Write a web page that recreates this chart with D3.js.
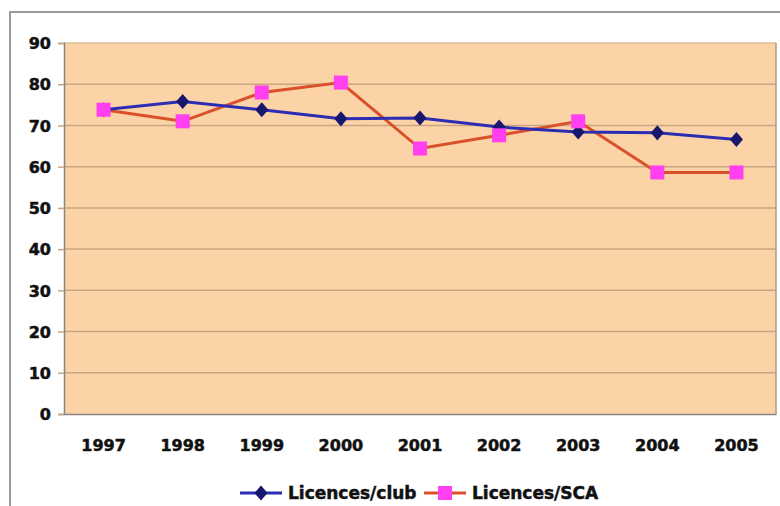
<!DOCTYPE html>
<html>
<head>
<meta charset="utf-8">
<script src="https://cdn.jsdelivr.net/npm/d3@7"></script>
<style>
  html, body { margin: 0; padding: 0; background: #ffffff; }
  svg text { font-family: "DejaVu Sans", "Liberation Sans", sans-serif; font-weight: bold; fill: #111; stroke: #111; stroke-width: 0.5px; }
</style>
</head>
<body>
<svg id="chart" width="780" height="506"></svg>
<script>
// Licences per year, 1997–2005
const years = ["1997", "1998", "1999", "2000", "2001", "2002", "2003", "2004", "2005"];
const licencesClub = [73.8, 75.8, 73.8, 71.6, 71.8, 69.6, 68.4, 68.2, 66.6];
const licencesSCA = [73.8, 71.0, 78.0, 80.4, 64.4, 67.6, 71.0, 58.6, 58.6];
const yTicks = [0, 10, 20, 30, 40, 50, 60, 70, 80, 90];
const seriesNames = ["Licences/club", "Licences/SCA"];

const svg = d3.select("#chart");
const plot = { left: 64, right: 776, top: 43, bottom: 414 };

const x = d3.scaleBand().domain(years).range([plot.left, plot.right]);
const y = d3.scaleLinear().domain([0, 90]).range([plot.bottom, plot.top]);

// outer frame
svg.append("path")
  .attr("d", "M10,506 L10,12 L780,12")
  .attr("fill", "none").attr("stroke", "#9a9a9a").attr("stroke-width", 2);

// plot background
svg.append("rect")
  .attr("x", plot.left).attr("y", plot.top)
  .attr("width", plot.right - plot.left).attr("height", plot.bottom - plot.top)
  .attr("fill", "#fcd3a7");

// gridlines
svg.append("g")
  .selectAll("line")
  .data(yTicks.filter(d => d > 0 && d < 90))
  .join("line")
  .attr("x1", plot.left).attr("x2", plot.right)
  .attr("y1", d => y(d)).attr("y2", d => y(d))
  .attr("stroke", "#c9a681").attr("stroke-width", 1.5);

// plot border
svg.append("line").attr("x1", plot.left).attr("x2", plot.right)
  .attr("y1", plot.top).attr("y2", plot.top)
  .attr("stroke", "#e2bf98").attr("stroke-width", 1.5);
svg.append("line").attr("x1", plot.right).attr("x2", plot.right)
  .attr("y1", plot.top).attr("y2", plot.bottom)
  .attr("stroke", "#a89a8c").attr("stroke-width", 1.5);

// y axis
const yAxis = svg.append("g")
  .attr("transform", `translate(${plot.left},0)`)
  .call(d3.axisLeft(y).tickValues(yTicks).tickSize(6).tickPadding(7).tickFormat(d3.format("d")));
yAxis.select(".domain").attr("stroke", "#8a8580").attr("stroke-width", 1.5);
yAxis.selectAll(".tick line").attr("stroke", "#c9a681").attr("stroke-width", 1.5);
yAxis.selectAll(".tick text").style("font-size", "16px").attr("dy", "0.36em");

// x axis
const xAxis = svg.append("g")
  .attr("transform", `translate(0,${plot.bottom})`)
  .call(d3.axisBottom(x).tickSize(0).tickPadding(26));
xAxis.select(".domain").attr("stroke", "#8a8580").attr("stroke-width", 1.5);
xAxis.selectAll(".tick text").style("font-size", "16px");

const cx = d => x(d) + x.bandwidth() / 2;

// series lines
const line = d3.line().x((d, i) => cx(years[i])).y(d => y(d));
svg.append("path").datum(licencesSCA)
  .attr("d", line).attr("fill", "none")
  .attr("stroke", "#d9502a").attr("stroke-width", 3);
svg.append("path").datum(licencesClub)
  .attr("d", line).attr("fill", "none")
  .attr("stroke", "#2d2db4").attr("stroke-width", 3);

// markers
const diamond = d3.symbol().type(d3.symbolDiamond2).size(110);
svg.append("g").selectAll("path")
  .data(licencesClub)
  .join("path")
  .attr("d", diamond)
  .attr("transform", (d, i) => `translate(${cx(years[i])},${y(d)}) scale(1,1.15)`)
  .attr("fill", "#17176e");
svg.append("g").selectAll("rect")
  .data(licencesSCA)
  .join("rect")
  .attr("x", (d, i) => cx(years[i]) - 7)
  .attr("y", d => y(d) - 7)
  .attr("width", 14).attr("height", 14)
  .attr("fill", "#ff3ff0");

// legend
const legend = svg.append("g").attr("transform", "translate(0,493)");
const legendItems = [
  { name: seriesNames[0], x0: 240, color: "#2d2db4", marker: "diamond" },
  { name: seriesNames[1], x0: 424, color: "#d9502a", marker: "square" }
];
legendItems.forEach(item => {
  legend.append("line")
    .attr("x1", item.x0).attr("x2", item.x0 + 42)
    .attr("y1", 0).attr("y2", 0)
    .attr("stroke", item.color).attr("stroke-width", 3);
  if (item.marker === "diamond") {
    legend.append("path").attr("d", diamond)
      .attr("transform", `translate(${item.x0 + 21},0) scale(1,1.15)`)
      .attr("fill", "#17176e");
  } else {
    legend.append("rect")
      .attr("x", item.x0 + 21 - 7).attr("y", -7)
      .attr("width", 14).attr("height", 14)
      .attr("fill", "#ff3ff0");
  }
  legend.append("text")
    .attr("x", item.x0 + 48).attr("y", 0).attr("dy", "0.36em")
    .style("font-size", "17px")
    .text(item.name);
});
</script>
</body>
</html>
